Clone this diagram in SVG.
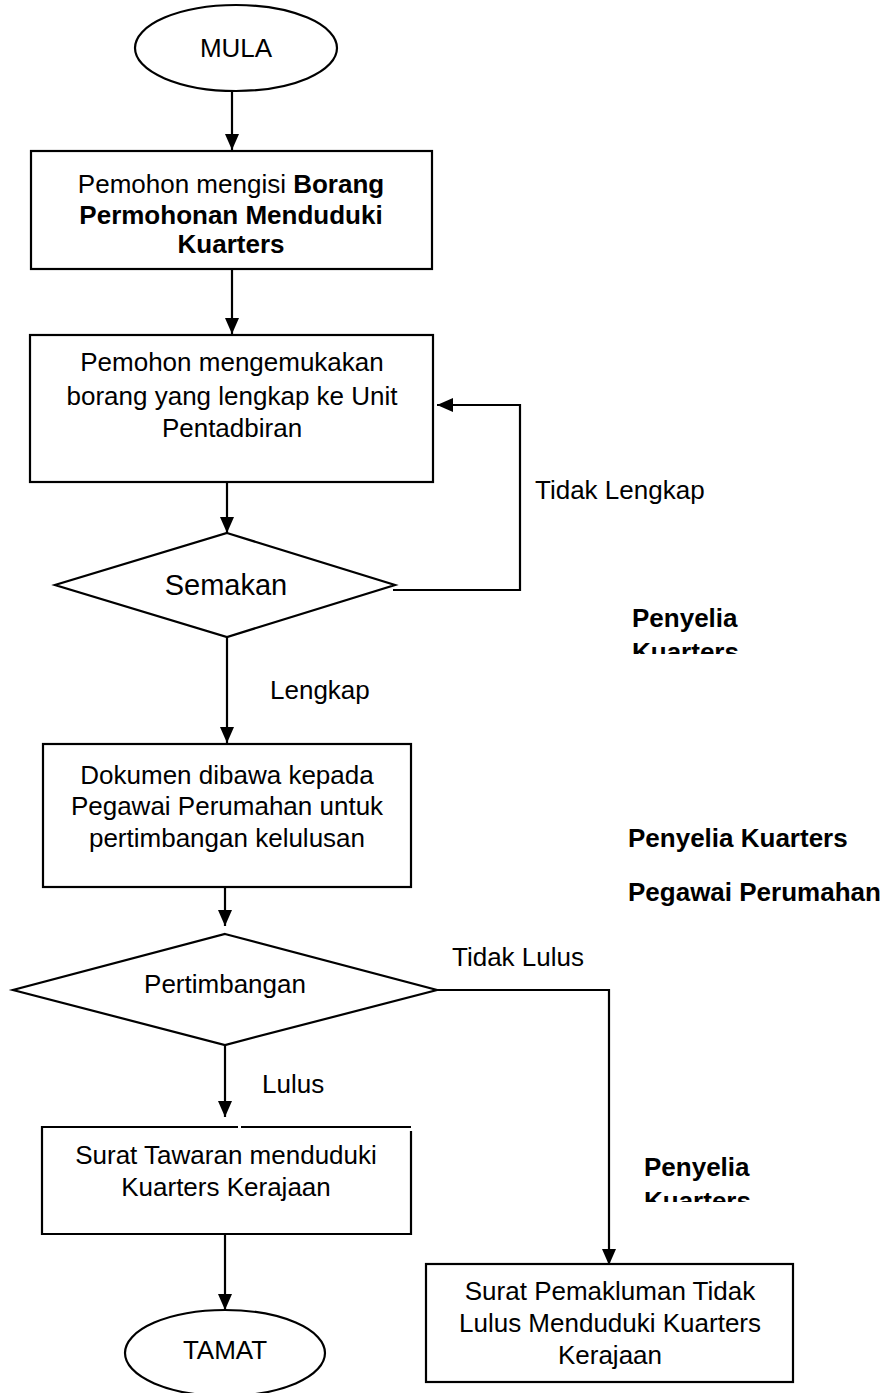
<svg xmlns="http://www.w3.org/2000/svg" width="891" height="1393" viewBox="0 0 891 1393">
<style>
.s{fill:#fff;stroke:#000;stroke-width:2.2}
.t{font-family:"Liberation Sans",Arial,sans-serif;font-size:26px;fill:#000;text-anchor:middle}
.l{font-family:"Liberation Sans",Arial,sans-serif;font-size:26px;fill:#000}
.b{font-weight:bold}
.c{fill:none;stroke:#000;stroke-width:2.2}
</style>
<defs>
<marker id="ah" markerUnits="userSpaceOnUse" markerWidth="16" markerHeight="14" refX="16" refY="7" orient="auto">
<path d="M0,0 L16,7 L0,14 z" fill="#000"/>
</marker>
<clipPath id="cp1"><rect x="600" y="590" width="200" height="64"/></clipPath>
<clipPath id="cp2"><rect x="620" y="1140" width="200" height="62"/></clipPath>
</defs>
<rect width="891" height="1393" fill="#fff"/>
<g id="connectors">
<path class="c" d="M232,92 L232,150" marker-end="url(#ah)"/>
<path class="c" d="M232,269 L232,334" marker-end="url(#ah)"/>
<path class="c" d="M227,482 L227,533" marker-end="url(#ah)"/>
<path class="c" d="M393,590 L520,590 L520,405 L437,405" marker-end="url(#ah)"/>
<path class="c" d="M227,637 L227,743" marker-end="url(#ah)"/>
<path class="c" d="M225,887 L225,926" marker-end="url(#ah)"/>
<path class="c" d="M437,990 L609,990 L609,1265" marker-end="url(#ah)"/>
<path class="c" d="M225,1045 L225,1117" marker-end="url(#ah)"/>
<path class="c" d="M225,1234 L225,1310" marker-end="url(#ah)"/>
</g>
<g id="mula">
<ellipse class="s" cx="236" cy="48" rx="101" ry="43"/>
<text class="t" x="236" y="57">MULA</text>
</g>
<g id="box1">
<rect class="s" x="31" y="151" width="401" height="118"/>
<text class="t" x="231" y="193">Pemohon mengisi <tspan class="b">Borang</tspan></text>
<text class="t b" x="231" y="224">Permohonan Menduduki</text>
<text class="t b" x="231" y="253">Kuarters</text>
</g>
<g id="box2">
<rect class="s" x="30" y="335" width="403" height="147"/>
<text class="t" x="232" y="371">Pemohon mengemukakan</text>
<text class="t" x="232" y="405">borang yang lengkap ke Unit</text>
<text class="t" x="232" y="437">Pentadbiran</text>
</g>
<g id="semakan">
<polygon class="s" points="227,533 395,585 227,637 55,585"/>
<text class="t" x="226" y="595" style="font-size:29px">Semakan</text>
</g>
<g id="label-tidak-lengkap"><text class="l" x="535" y="499">Tidak Lengkap</text></g>
<g id="label-penyelia1"><text class="l b" x="632" y="627" clip-path="url(#cp1)">Penyelia<tspan x="632" y="661">Kuarters</tspan></text></g>
<g id="label-lengkap"><text class="l" x="270" y="699">Lengkap</text></g>
<g id="box3">
<rect class="s" x="43" y="744" width="368" height="143"/>
<text class="t" x="227" y="784">Dokumen dibawa kepada</text>
<text class="t" x="227" y="815">Pegawai Perumahan untuk</text>
<text class="t" x="227" y="847">pertimbangan kelulusan</text>
</g>
<g id="label-penyelia2"><text class="l b" x="628" y="847">Penyelia Kuarters</text></g>
<g id="label-pegawai"><text class="l b" x="628" y="901">Pegawai Perumahan</text></g>
<g id="pertimbangan">
<polygon class="s" points="225,934 437,990 225,1045 13,990"/>
<text class="t" x="225" y="993">Pertimbangan</text>
</g>
<g id="label-tidak-lulus"><text class="l" x="452" y="966">Tidak Lulus</text></g>
<g id="label-lulus"><text class="l" x="262" y="1093">Lulus</text></g>
<g id="box5">
<rect x="42" y="1127" width="369" height="107" fill="#fff"/>
<path class="c" d="M238,1127 L42,1127 L42,1234 L411,1234 L411,1131 M241,1127 L411,1127"/>
<text class="t" x="226" y="1164">Surat Tawaran menduduki</text>
<text class="t" x="226" y="1196">Kuarters Kerajaan</text>
</g>
<g id="label-penyelia3"><text class="l b" x="644" y="1176" clip-path="url(#cp2)">Penyelia<tspan x="644" y="1210">Kuarters</tspan></text></g>
<g id="box4">
<rect class="s" x="426" y="1264" width="367" height="118"/>
<text class="t" x="610" y="1300">Surat Pemakluman Tidak</text>
<text class="t" x="610" y="1332">Lulus Menduduki Kuarters</text>
<text class="t" x="610" y="1364">Kerajaan</text>
</g>
<g id="tamat">
<ellipse class="s" cx="225" cy="1353" rx="100" ry="43"/>
<text class="t" x="225" y="1359">TAMAT</text>
</g>
</svg>
